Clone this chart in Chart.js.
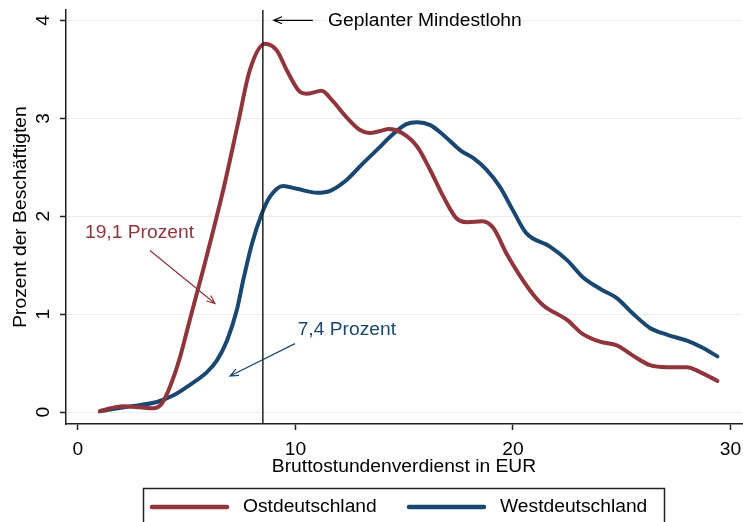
<!DOCTYPE html>
<html>
<head>
<meta charset="utf-8">
<script src="https://cdn.jsdelivr.net/npm/chart.js@4.4.1/dist/chart.umd.min.js"></script>
<style>
html, body { margin: 0; padding: 0; background: #fff; }
</style>
</head>
<body>
<canvas id="chart" width="743" height="522"></canvas>
<script>
// Bruttostundenverdienst (EUR) und Prozent der Beschäftigten
var ostX = [1.0, 1.5, 2.07, 2.85, 3.45, 3.86, 4.23, 4.69, 5.15, 5.75, 6.67, 7.36, 7.9, 8.6, 9.15, 9.6, 10.2, 10.5, 11.2, 11.7, 12.35, 12.97, 13.4, 13.9, 14.3, 14.9, 15.6, 16.2, 16.8, 17.4, 17.9, 18.6, 19.1, 19.7, 20.3, 20.9, 21.4, 22.5, 23.2, 24.0, 24.8, 25.5, 26.3, 27.1, 28.0, 28.6, 29.4];
var ostY = [0.01, 0.04, 0.06, 0.05, 0.04, 0.09, 0.26, 0.56, 0.95, 1.45, 2.26, 2.95, 3.49, 3.76, 3.69, 3.49, 3.27, 3.25, 3.28, 3.18, 3.01, 2.88, 2.85, 2.87, 2.89, 2.85, 2.71, 2.47, 2.2, 1.98, 1.94, 1.95, 1.88, 1.62, 1.4, 1.21, 1.09, 0.94, 0.8, 0.72, 0.68, 0.58, 0.48, 0.46, 0.46, 0.41, 0.32];

var westX = [1.01, 2.39, 3.63, 4.37, 5.15, 5.93, 6.39, 6.85, 7.3, 7.6, 8.0, 8.46, 8.83, 9.43, 10.07, 11.0, 11.6, 12.35, 13.1, 13.9, 14.34, 15.1, 15.6, 16.2, 16.8, 17.6, 18.2, 18.8, 19.4, 20.0, 20.6, 21.7, 22.5, 23.2, 24.0, 24.8, 25.5, 26.3, 27.1, 28.0, 28.7, 29.4];
var westY = [0.01, 0.06, 0.105, 0.17, 0.28, 0.41, 0.53, 0.73, 1.04, 1.35, 1.72, 2.03, 2.2, 2.31, 2.28, 2.24, 2.26, 2.37, 2.54, 2.71, 2.81, 2.94, 2.96, 2.93, 2.83, 2.67, 2.59, 2.47, 2.3, 2.06, 1.83, 1.69, 1.55, 1.38, 1.26, 1.16, 1.01, 0.86, 0.79, 0.73, 0.66, 0.57];

var seriesNames = ['Ostdeutschland', 'Westdeutschland'];
var xTicks = [0, 10, 20, 30];
var yTicks = [0, 1, 2, 3, 4];
var mindestlohn = 8.5;
var xTitle = 'Bruttostundenverdienst in EUR';
var yTitle = 'Prozent der Beschäftigten';

var MAROON = '#90353b';
var NAVY = '#1a476f';
var FONT = '17.5px "Liberation Sans", Arial, sans-serif';
var STRETCH = 1.1; // the original lettering is a bit wide

function toPoints(xs, ys) {
  return xs.map(function (x, i) { return { x: x, y: ys[i] }; });
}

// notes in data coordinates
var notes = [
  { text: 'Geplanter Mindestlohn', color: '#000', tx: 11.5, ty: 3.99, from: [10.8, 4.0], to: [9.0, 4.0] },
  { text: '19,1 Prozent', color: MAROON, tx: 0.32, ty: 1.83, from: [3.31, 1.65], to: [6.3, 1.11] },
  { text: '7,4 Prozent', color: NAVY, tx: 10.1, ty: 0.84, from: [9.98, 0.70], to: [6.99, 0.37] }
];

function label(ctx, text, x, y, align, color, rot) {
  ctx.save();
  ctx.translate(x, y);
  if (rot) ctx.rotate(rot);
  ctx.scale(STRETCH, 1);
  ctx.font = FONT;
  ctx.fillStyle = color || '#000';
  ctx.textAlign = align || 'left';
  ctx.textBaseline = 'middle';
  ctx.fillText(text, 0, 0);
  ctx.restore();
}

function arrow(ctx, x1, y1, x2, y2, color) {
  var a = Math.atan2(y2 - y1, x2 - x1);
  var h = 9;
  ctx.save();
  ctx.strokeStyle = color;
  ctx.lineWidth = 1.2;
  ctx.beginPath();
  ctx.moveTo(x1, y1);
  ctx.lineTo(x2, y2);
  ctx.moveTo(x2 - h * Math.cos(a - 0.4), y2 - h * Math.sin(a - 0.4));
  ctx.lineTo(x2, y2);
  ctx.lineTo(x2 - h * Math.cos(a + 0.4), y2 - h * Math.sin(a + 0.4));
  ctx.stroke();
  ctx.restore();
}

var extras = {
  id: 'extras',
  afterDatasetsDraw: function (chart) {
    var ctx = chart.ctx, xs = chart.scales.x, ys = chart.scales.y, area = chart.chartArea;
    // Mindestlohn line
    var lx = xs.getPixelForValue(mindestlohn);
    ctx.save();
    ctx.strokeStyle = '#222';
    ctx.lineWidth = 1.5;
    ctx.beginPath();
    ctx.moveTo(lx, area.top);
    ctx.lineTo(lx, area.bottom);
    ctx.stroke();
    ctx.restore();

    notes.forEach(function (n) {
      arrow(ctx, xs.getPixelForValue(n.from[0]), ys.getPixelForValue(n.from[1]),
        xs.getPixelForValue(n.to[0]), ys.getPixelForValue(n.to[1]), n.color);
      label(ctx, n.text, xs.getPixelForValue(n.tx), ys.getPixelForValue(n.ty), 'left', n.color);
    });
  },
  afterDraw: function (chart) {
    var ctx = chart.ctx, xs = chart.scales.x, ys = chart.scales.y, area = chart.chartArea;
    // axis labels
    yTicks.forEach(function (v) {
      label(ctx, String(v), 44, ys.getPixelForValue(v), 'center', '#000', -Math.PI / 2);
    });
    xTicks.forEach(function (v) {
      label(ctx, String(v), xs.getPixelForValue(v), 450, 'center', '#000');
    });
    label(ctx, xTitle, (area.left + area.right) / 2, 467, 'center', '#000');
    label(ctx, yTitle, 21, (area.top + area.bottom) / 2, 'center', '#000', -Math.PI / 2);

    // legend box
    ctx.save();
    ctx.strokeStyle = '#222';
    ctx.lineWidth = 1.5;
    ctx.strokeRect(143.5, 488.5, 521, 60);
    var items = [{ x: 152, tx: 243 }, { x: 409, tx: 500 }];
    chart.data.datasets.forEach(function (ds, i) {
      var it = items[i];
      ctx.strokeStyle = ds.borderColor;
      ctx.lineWidth = 4.5;
      ctx.lineCap = 'round';
      ctx.beginPath();
      ctx.moveTo(it.x, 507);
      ctx.lineTo(it.x + 75, 507);
      ctx.stroke();
      label(ctx, ds.label, it.tx, 507, 'left', '#000');
    });
    ctx.restore();
  }
};

new Chart(document.getElementById('chart'), {
  type: 'line',
  data: {
    datasets: [
      { label: seriesNames[0], data: toPoints(ostX, ostY), borderColor: MAROON, borderWidth: 4,
        pointRadius: 0, cubicInterpolationMode: 'monotone', borderCapStyle: 'round', borderJoinStyle: 'round' },
      { label: seriesNames[1], data: toPoints(westX, westY), borderColor: NAVY, borderWidth: 4,
        pointRadius: 0, cubicInterpolationMode: 'monotone', borderCapStyle: 'round', borderJoinStyle: 'round' }
    ]
  },
  options: {
    responsive: false,
    animation: false,
    devicePixelRatio: 1,
    layout: { padding: { top: 10, right: 1, bottom: 38, left: 0 } },
    plugins: { legend: { display: false }, tooltip: { enabled: false } },
    scales: {
      x: {
        type: 'linear',
        min: -0.55,
        max: 30.53,
        afterBuildTicks: function (s) { s.ticks = xTicks.map(function (v) { return { value: v }; }); },
        afterFit: function (s) { s.height = 60; },
        grid: { drawOnChartArea: false, tickLength: 6, tickColor: '#222', tickWidth: 1.5 },
        border: { color: '#222', width: 1.5 },
        ticks: { display: false }
      },
      y: {
        type: 'linear',
        min: -0.12,
        max: 4.105,
        afterBuildTicks: function (s) { s.ticks = yTicks.map(function (v) { return { value: v }; }); },
        afterFit: function (s) { s.width = 66; },
        grid: { color: '#e6eef0', lineWidth: 1, tickLength: 6, tickColor: '#222', tickWidth: 1.5 },
        border: { color: '#222', width: 1.5 },
        ticks: { display: false }
      }
    }
  },
  plugins: [extras]
});
</script>
</body>
</html>
